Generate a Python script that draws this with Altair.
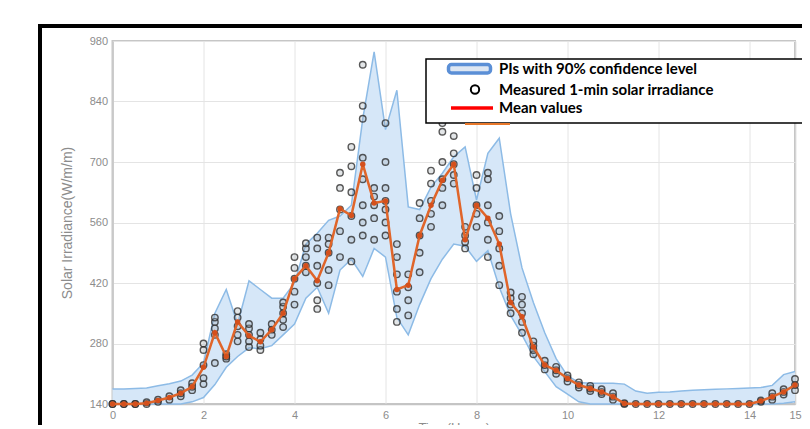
import altair as alt
import pandas as pd

times = [0.0, 0.25, 0.5, 0.75, 1.0, 1.25, 1.5, 1.75, 2.0, 2.25, 2.5, 2.75, 3.0, 3.25, 3.5, 3.75,
         4.0, 4.25, 4.5, 4.75, 5.0, 5.25, 5.5, 5.75, 6.0, 6.25, 6.5, 6.75, 7.0, 7.25, 7.5, 7.75,
         8.0, 8.25, 8.5, 8.75, 9.0, 9.25, 9.5, 9.75, 10.0, 10.25, 10.5, 10.75, 11.0, 11.25, 11.5,
         11.75, 12.0, 12.25, 12.5, 12.75, 13.0, 13.25, 13.5, 13.75, 14.0, 14.25, 14.5, 14.75, 15.0]

mean_vals = [140, 140, 140, 142, 148, 155, 165, 180, 225, 305, 250, 330, 298, 284, 312, 350,
             430, 460, 425, 490, 592, 576, 695, 605, 610, 405, 415, 530, 600, 658, 695, 520,
             600, 570, 510, 375, 342, 272, 230, 218, 199, 184, 176, 168, 157, 141, 140,
             140, 140, 140, 140, 140, 140, 140, 140, 140, 140, 147, 157, 168, 184]

upper_pi = [175, 175, 176, 177, 182, 187, 193, 207, 235, 350, 405, 325, 425, 405, 385, 385,
            420, 510, 535, 565, 575, 600, 800, 955, 775, 866, 596, 590, 642, 674, 712, 735,
            612, 720, 755, 580, 455, 375, 305, 245, 205, 190, 188, 188, 188, 186, 170,
            165, 167, 168, 170, 172, 173, 174, 175, 176, 177, 178, 183, 208, 215]

lower_pi = [140, 140, 140, 140, 140, 140, 140, 145, 155, 185, 225, 250, 270, 268, 275, 300,
            325, 385, 410, 350, 450, 475, 435, 500, 480, 340, 300, 370, 430, 475, 510, 505,
            470, 495, 410, 345, 300, 250, 215, 180, 163, 145, 140, 140, 140, 140, 140,
            140, 140, 140, 140, 140, 140, 140, 140, 140, 140, 140, 140, 142, 145]

measured = [
    [140, 140], [140, 140], [140, 140], [140, 144], [145, 150], [150, 158], [158, 165, 172],
    [172, 180, 188], [186, 200, 230, 265, 280], [235, 300, 315, 330, 340], [245, 250, 255],
    [285, 300, 320, 340, 355], [272, 285, 300, 315, 325], [265, 275, 290, 305], [300, 312, 325],
    [318, 335, 350, 365, 375], [370, 400, 430, 455, 480], [445, 460, 480, 500, 512],
    [360, 380, 420, 460, 500, 525], [415, 450, 490, 510, 525], [480, 540, 590, 640, 675],
    [470, 520, 575, 630, 690, 735], [530, 560, 600, 660, 710, 800, 830, 925],
    [520, 570, 600, 620, 640], [530, 560, 590, 610, 640, 700, 790],
    [330, 360, 400, 440, 480, 510], [345, 380, 410, 440], [445, 490, 530, 570, 605],
    [550, 580, 610, 650, 680], [600, 640, 660, 700, 770, 790], [650, 670, 695, 720, 760],
    [500, 515, 530, 550], [550, 580, 600, 640, 670], [480, 520, 560, 600, 660, 675],
    [415, 460, 500, 540, 575], [350, 370, 385, 398], [305, 330, 350, 370, 388],
    [255, 265, 275, 285], [220, 230, 240], [210, 218, 226], [192, 200, 206], [178, 184, 190],
    [170, 176, 182], [163, 168, 174], [150, 157, 165], [140, 142], [140], [140], [140], [140],
    [140], [140], [140], [140], [140], [140], [140], [145, 148], [150, 157, 165],
    [162, 168, 174], [172, 184, 198]]

x_ticks = [0, 2, 4, 6, 8, 10, 12, 14, 15]
y_ticks = [140, 280, 420, 560, 700, 840, 980]
legend_labels = ["PIs with 90% confidence level", "Measured 1-min solar irradiance", "Mean values"]

df = pd.DataFrame({"t": times, "mean": mean_vals, "lo": lower_pi, "hi": upper_pi})
pts = pd.DataFrame([(t, v) for t, vs in zip(times, measured) for v in vs], columns=["t", "v"])
one = pd.DataFrame({"a": [0]})

W, H = 682.5, 363
xs = alt.Scale(domain=[0, 15], nice=False, zero=False)
ys = alt.Scale(domain=[140, 980], nice=False, zero=False)

xax = alt.Axis(values=x_ticks, title="Time(Hours)", grid=True, gridColor="#e4e4e4", gridWidth=1,
               ticks=False, labelColor="#8c8c8c", labelFontSize=11, labelFont="Liberation Sans",
               labelPadding=5, domainColor="#c4c4c4", domainWidth=1.5, titleColor="#8c8c8c",
               titleFontSize=13, titleFont="Liberation Sans", titleFontWeight="normal", titlePadding=1,
               labelFlush=False)
yax = alt.Axis(values=y_ticks, title="Solar Irradiance(W/m/m)", grid=True, gridColor="#e4e4e4",
               gridWidth=1, ticks=False, labelColor="#8c8c8c", labelFontSize=11,
               labelFont="Liberation Sans", labelPadding=5, domainColor="#c4c4c4", domainWidth=1.5,
               titleColor="#8c8c8c", titleFontSize=14, titleFont="Liberation Sans",
               titleFontWeight="normal", titlePadding=15)

X = alt.X("t:Q", scale=xs, axis=xax)

band = alt.Chart(df).mark_area(color="#d6e7f8", opacity=1).encode(
    x=X, y=alt.Y("lo:Q", scale=ys, axis=yax), y2="hi:Q")
hi_line = alt.Chart(df).mark_line(color="#8dbbe6", strokeWidth=1.5).encode(
    x=alt.X("t:Q", scale=xs), y=alt.Y("hi:Q", scale=ys))
lo_line = alt.Chart(df).mark_line(color="#8dbbe6", strokeWidth=1.5).encode(
    x=alt.X("t:Q", scale=xs), y=alt.Y("lo:Q", scale=ys))
points = alt.Chart(pts).mark_point(shape="circle", filled=False, stroke="#2e2e2e", fill="#9ea7b0",
                                   fillOpacity=0.35, strokeWidth=1.4, size=42, opacity=0.8).encode(
    x=alt.X("t:Q", scale=xs), y=alt.Y("v:Q", scale=ys))
mean_line = alt.Chart(df).mark_line(
    color="#e0652a", strokeWidth=2.5,
    point=alt.OverlayMarkDef(filled=True, color="#d4501c", size=30)).encode(
    x=alt.X("t:Q", scale=xs), y=alt.Y("mean:Q", scale=ys))

# outer black frame
frame_top = alt.Chart(one).mark_rule(color="black", strokeWidth=4).encode(
    x=alt.value(-74.5), x2=alt.value(720), y=alt.value(-15))
frame_left = alt.Chart(one).mark_rule(color="black", strokeWidth=4).encode(
    x=alt.value(-72.5), y=alt.value(-17), y2=alt.value(420))

# legend
leg_box = alt.Chart(one).mark_rect(fill="white", stroke="black", strokeWidth=1.5).encode(
    x=alt.value(313.5), x2=alt.value(695.5), y=alt.value(18), y2=alt.value(82))
leg_patch = alt.Chart(one).mark_rect(fill="#dde6f2", stroke="#5b8fd6", strokeWidth=3.5,
                                     cornerRadius=3).encode(
    x=alt.value(336), x2=alt.value(378), y=alt.value(23.5), y2=alt.value(32))
leg_circle = alt.Chart(one).mark_point(shape="circle", filled=False, color="black", strokeWidth=2,
                                       size=70, opacity=1).encode(
    x=alt.value(362.5), y=alt.value(48.5))
leg_red = alt.Chart(one).mark_rule(color="#ff0000", strokeWidth=3.5).encode(
    x=alt.value(338.5), x2=alt.value(380.5), y=alt.value(67))
leg_orange = alt.Chart(one).mark_rule(color="#e8782a", strokeWidth=2).encode(
    x=alt.value(352.5), x2=alt.value(397.5), y=alt.value(83))

leg_texts = []
for i, lab in enumerate(legend_labels):
    leg_texts.append(
        alt.Chart(pd.DataFrame({"label": [lab]})).mark_text(
            align="left", baseline="middle", font="Lato", fontWeight="bold", fontSize=15,
            color="black").encode(
            x=alt.value(386.5), y=alt.value([28, 48.5, 67][i]), text="label:N"))

chart = alt.layer(
    band, hi_line, lo_line, points, mean_line,
    frame_top, frame_left,
    leg_box, leg_patch, leg_circle, leg_red, leg_orange, *leg_texts
).properties(
    width=W, height=H,
    padding={"left": 104.5, "top": 33, "right": 7, "bottom": 21},
    autosize=alt.AutoSizeParams(type="none"),
    background="white",
).configure_view(stroke="#c6c6c6", strokeWidth=2)

chart.save("out.html", embed_options={"renderer": "svg", "actions": False})
